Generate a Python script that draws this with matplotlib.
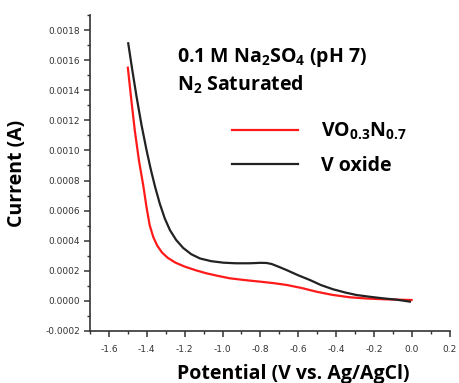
import numpy as np
import matplotlib
matplotlib.use("Agg")
import matplotlib.pyplot as plt
from matplotlib.ticker import MultipleLocator, AutoMinorLocator

# LSV data (potential in V, current in A)
vox_potential = [-1.498, -1.476, -1.454, -1.428, -1.401, -1.38, -1.357, -1.331, -1.305,
                 -1.278, -1.245, -1.208, -1.165, -1.119, -1.06, -0.996, -0.93, -0.856,
                 -0.8, -0.767, -0.74, -0.70, -0.662, -0.6, -0.539, -0.48, -0.416,
                 -0.35, -0.292, -0.22, -0.152, -0.08, -0.011]
vox_current = [0.001712, 0.00153, 0.001357, 0.00117, 0.001, 0.00088, 0.000762,
               0.000645, 0.000548, 0.000471, 0.000405, 0.000352, 0.00031, 0.000282,
               0.000264, 0.000254, 0.00025, 0.00025, 0.000253, 0.000252, 0.000245,
               0.000225, 0.000205, 0.00017, 0.000139, 0.000105, 0.000077, 0.000055,
               0.000039, 0.000027, 0.000017, 0.000008, -0.000005]

von_potential = [-1.5, -1.482, -1.463, -1.441, -1.419, -1.401, -1.385, -1.366, -1.345,
                 -1.32, -1.29, -1.25, -1.2, -1.14, -1.084, -1.02, -0.961, -0.88,
                 -0.803, -0.73, -0.662, -0.58, -0.504, -0.42, -0.328, -0.24, -0.152,
                 -0.07, -0.002]
von_current = [0.00155, 0.00134, 0.00113, 0.00093, 0.00077, 0.00062, 0.000505,
               0.000425, 0.000368, 0.000322, 0.000287, 0.000255, 0.000228, 0.000203,
               0.000183, 0.000165, 0.00015, 0.000138, 0.000128, 0.000118, 0.000106,
               0.000085, 0.000061, 0.00004, 0.000024, 0.000016, 0.000011, 0.000008,
               0.000006]

plt.rcParams["font.family"] = ["Open Sans", "DejaVu Sans"]
plt.rcParams["mathtext.default"] = "regular"

fig = plt.figure(figsize=(4.59, 3.83), dpi=100)
ax = fig.add_axes([0.196, 0.1358, 0.784, 0.825])

ax.plot(von_potential, von_current, color="#ff1a1a", lw=1.6,
        label=r"VO$_{0.3}$N$_{0.7}$")
ax.plot(vox_potential, vox_current, color="#222222", lw=1.6, label="V oxide")

ax.set_xlim(-1.7, 0.2)
ax.set_ylim(-0.0002, 0.0019)
ax.xaxis.set_major_locator(MultipleLocator(0.2))
ax.yaxis.set_major_locator(MultipleLocator(0.0002))
ax.xaxis.set_minor_locator(AutoMinorLocator(2))
ax.yaxis.set_minor_locator(AutoMinorLocator(2))
ax.xaxis.set_major_formatter(plt.FuncFormatter(lambda v, p: f"{v:.1f}"))
ax.yaxis.set_major_formatter(plt.FuncFormatter(lambda v, p: f"{v:.4f}"))

for side in ["top", "right"]:
    ax.spines[side].set_visible(False)
for side in ["left", "bottom"]:
    ax.spines[side].set_linewidth(1.2)
    ax.spines[side].set_color("#333333")

ax.tick_params(which="major", direction="out", length=4, width=1.1,
               colors="#333333", labelsize=6.5, pad=3)
ax.tick_params(which="minor", direction="out", length=2.5, width=1.0,
               colors="#333333")
ax.tick_params(axis="x", pad=6)
for lab in ax.get_xticklabels() + ax.get_yticklabels():
    lab.set_family("DejaVu Sans")

ax.set_xlabel("Potential (V vs. Ag/AgCl)", fontsize=14, fontweight="bold")
ax.set_ylabel("Current (A)", fontsize=14, fontweight="bold")
ax.xaxis.set_label_coords(0.565, -0.105)
ax.yaxis.set_label_coords(-0.175, 0.5)

fig.text(0.386, 0.849, r"0.1 M Na$_2$SO$_4$ (pH 7)", fontsize=14,
         fontweight="bold", va="center", ha="left")
fig.text(0.386, 0.778, r"N$_2$ Saturated", fontsize=14,
         fontweight="bold", va="center", ha="left")

leg = ax.legend(loc="upper left", bbox_to_anchor=(0.347, 0.72), frameon=False,
                prop={"size": 14, "weight": "bold"}, handlelength=3.4,
                handletextpad=1.15, labelspacing=0.69)

fig.savefig("out.png", dpi=100)
